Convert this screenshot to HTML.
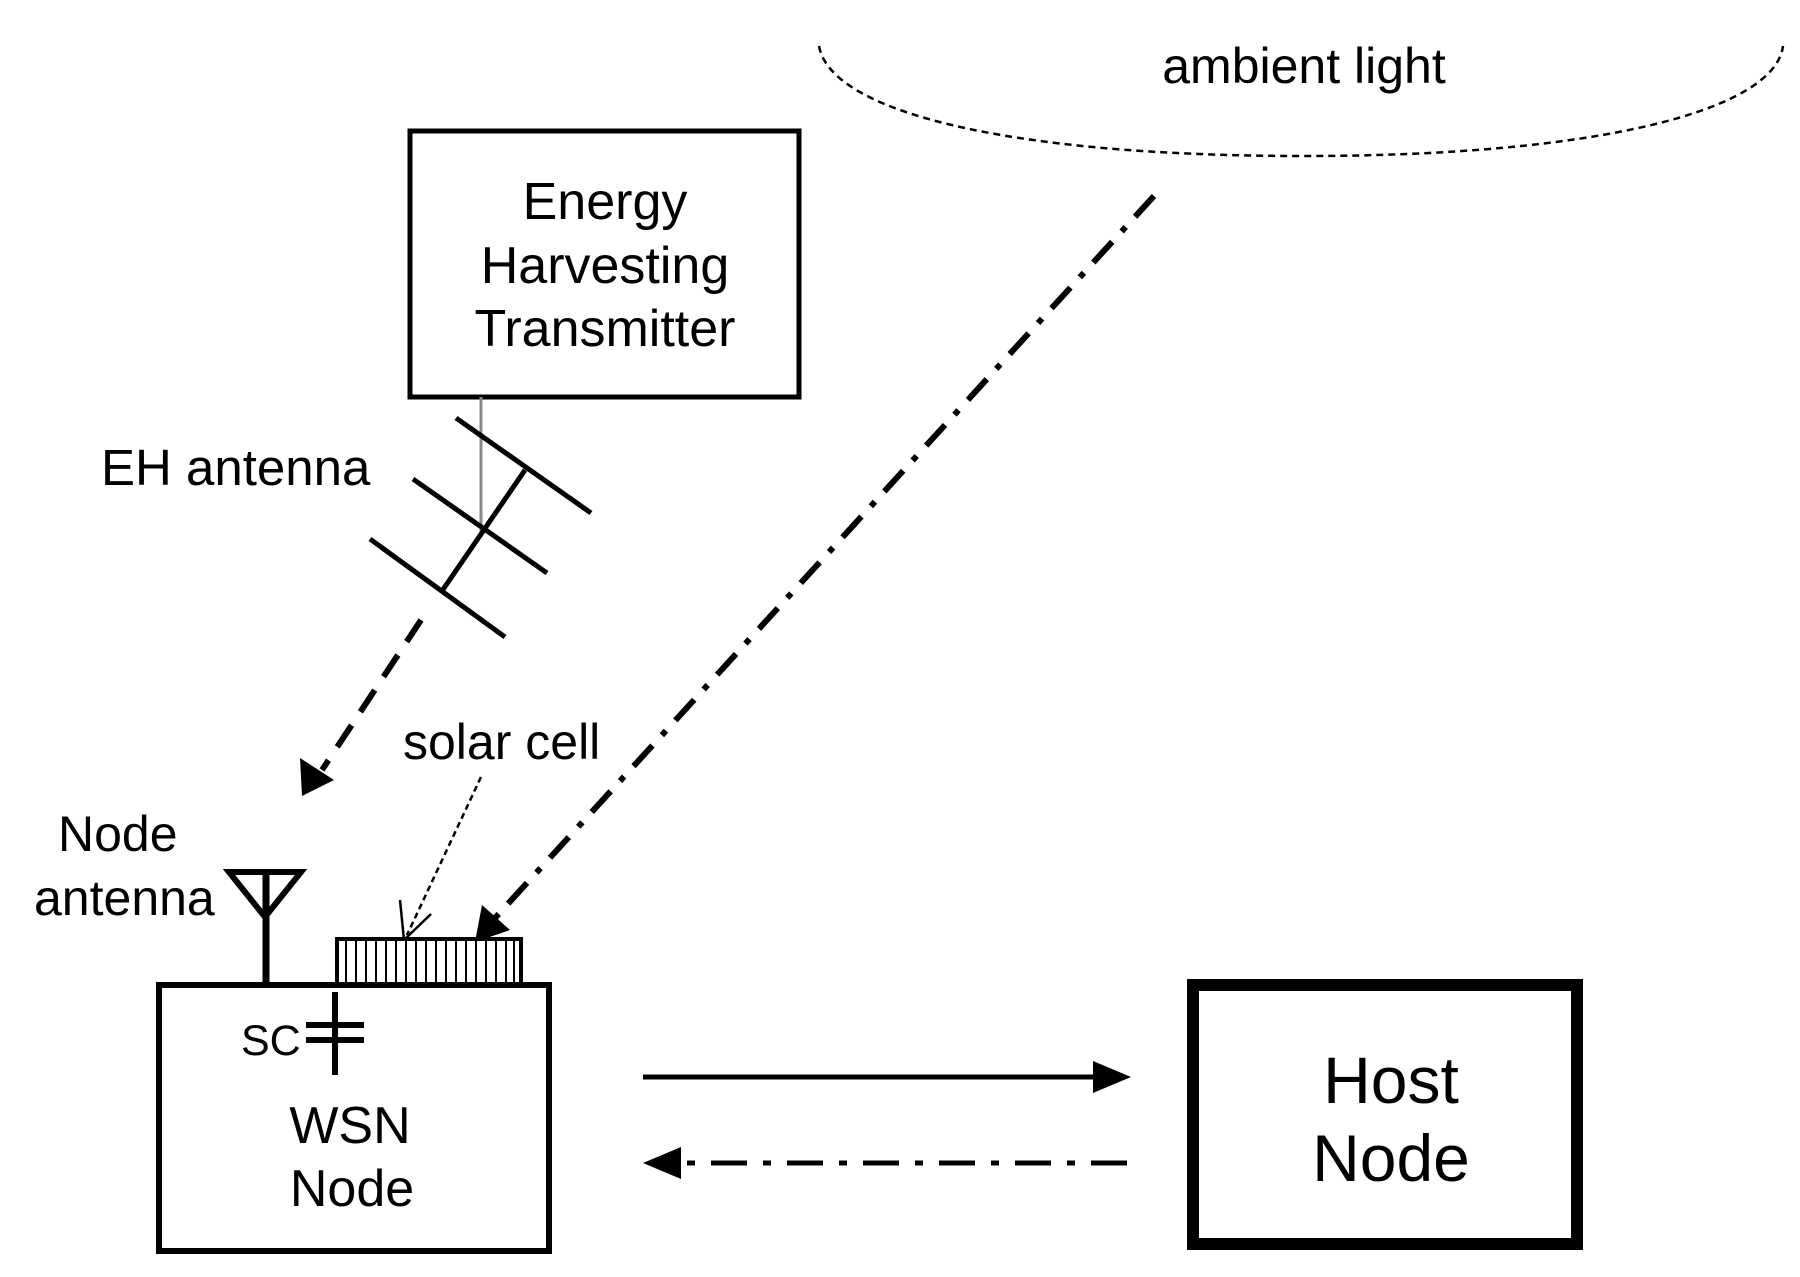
<!DOCTYPE html>
<html><head><meta charset="utf-8"><style>
html,body{margin:0;padding:0;background:#fff;}
svg{display:block;}
text{font-family:"Liberation Sans",sans-serif;fill:#000;}
</style></head><body>
<svg width="1800" height="1277" viewBox="0 0 1800 1277" xmlns="http://www.w3.org/2000/svg">
<path d="M819,46 C830,110 1000,156 1304,156 C1600,156 1775,110 1783,46" fill="none" stroke="#000" stroke-width="2.5" stroke-dasharray="7,5"/>
<text x="1304" y="83" font-size="50" text-anchor="middle">ambient light</text>

<rect x="410" y="131" width="389" height="266" fill="none" stroke="#000" stroke-width="5"/>
<text x="605" y="219" font-size="52" text-anchor="middle">Energy</text>
<text x="605" y="283" font-size="52" text-anchor="middle">Harvesting</text>
<text x="605" y="346" font-size="52" text-anchor="middle">Transmitter</text>

<line x1="481" y1="397" x2="481" y2="531" stroke="#888" stroke-width="3"/>
<g stroke="#000" stroke-width="5">
<line x1="456" y1="418" x2="591" y2="513"/>
<line x1="413" y1="479" x2="547" y2="573"/>
<line x1="370" y1="539" x2="505" y2="637"/>
<line x1="525" y1="470" x2="442" y2="591"/>
</g>
<text x="101" y="485" font-size="51">EH antenna</text>

<line x1="421" y1="620" x2="322" y2="770" stroke="#000" stroke-width="6" stroke-dasharray="26,16"/>
<polygon points="302,796 300,758 334,780" fill="#000"/>

<line x1="1154" y1="196" x2="495" y2="918" stroke="#000" stroke-width="6" stroke-dasharray="28,14,6,14"/>
<polygon points="475,942 482,905 510,930" fill="#000"/>

<text x="403" y="759" font-size="50">solar cell</text>
<line x1="481" y1="777" x2="407" y2="935" stroke="#000" stroke-width="2.5" stroke-dasharray="6,4"/>
<polyline points="400,900 404,940 431,914" fill="none" stroke="#000" stroke-width="2.5"/>

<text x="58" y="851" font-size="50">Node</text>
<text x="34" y="915" font-size="50">antenna</text>
<polygon points="229,872 301,872 265,917" fill="none" stroke="#000" stroke-width="6"/>
<line x1="266" y1="872" x2="266" y2="985" stroke="#000" stroke-width="7"/>

<rect x="337" y="939" width="184" height="45" fill="#fff" stroke="#000" stroke-width="4"/>
<g stroke="#000" stroke-width="2">
<line x1="346" y1="940" x2="346" y2="983"/><line x1="356" y1="940" x2="356" y2="983"/>
<line x1="366" y1="940" x2="366" y2="983"/><line x1="376" y1="940" x2="376" y2="983"/>
<line x1="386" y1="940" x2="386" y2="983"/><line x1="396" y1="940" x2="396" y2="983"/>
<line x1="406" y1="940" x2="406" y2="983"/><line x1="416" y1="940" x2="416" y2="983"/>
<line x1="426" y1="940" x2="426" y2="983"/><line x1="436" y1="940" x2="436" y2="983"/>
<line x1="446" y1="940" x2="446" y2="983"/><line x1="456" y1="940" x2="456" y2="983"/>
<line x1="466" y1="940" x2="466" y2="983"/><line x1="476" y1="940" x2="476" y2="983"/>
<line x1="486" y1="940" x2="486" y2="983"/><line x1="496" y1="940" x2="496" y2="983"/>
<line x1="506" y1="940" x2="506" y2="983"/><line x1="514" y1="940" x2="514" y2="983"/>
</g>

<rect x="159" y="985" width="390" height="266" fill="none" stroke="#000" stroke-width="6"/>
<line x1="335" y1="992" x2="335" y2="1075" stroke="#000" stroke-width="6"/>
<line x1="306" y1="1025" x2="364" y2="1025" stroke="#000" stroke-width="6"/>
<line x1="306" y1="1040" x2="364" y2="1040" stroke="#000" stroke-width="6"/>
<text x="241" y="1055" font-size="43">SC</text>
<text x="350" y="1143" font-size="52" text-anchor="middle">WSN</text>
<text x="352" y="1206" font-size="52" text-anchor="middle">Node</text>

<rect x="1193" y="985" width="384" height="259" fill="none" stroke="#000" stroke-width="12"/>
<text x="1391" y="1103" font-size="66" text-anchor="middle">Host</text>
<text x="1391" y="1181" font-size="66" text-anchor="middle">Node</text>

<line x1="643" y1="1077" x2="1100" y2="1077" stroke="#000" stroke-width="5"/>
<polygon points="1131,1077 1093,1061 1093,1093" fill="#000"/>
<line x1="1127" y1="1163" x2="675" y2="1163" stroke="#000" stroke-width="5" stroke-dasharray="36,16,8,16"/>
<polygon points="643,1163 681,1147 681,1179" fill="#000"/>
</svg>
</body></html>
